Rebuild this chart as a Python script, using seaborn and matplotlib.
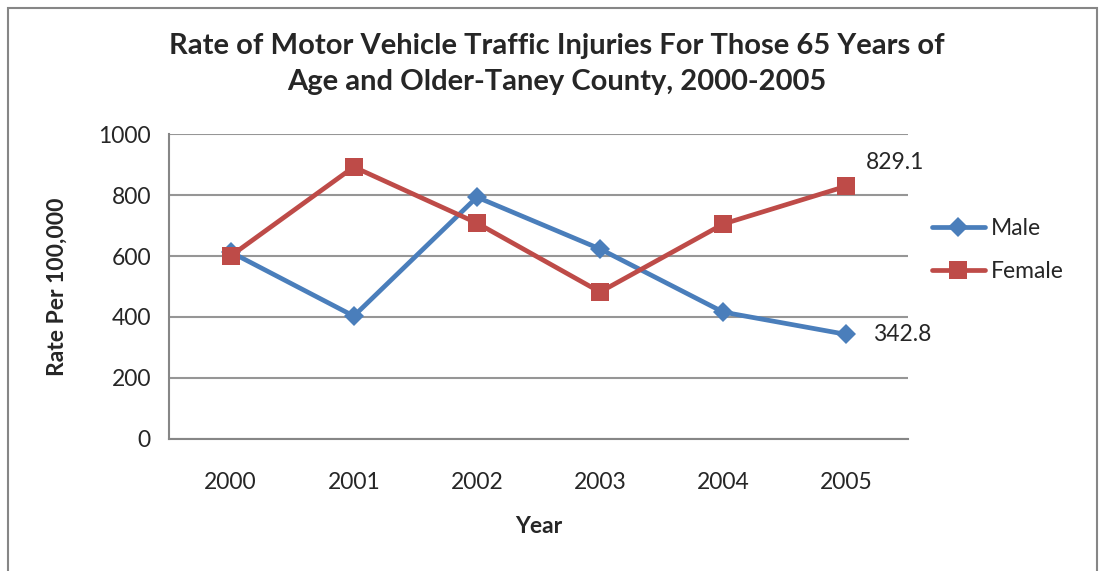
import pandas as pd
import numpy as np
import matplotlib.pyplot as plt
import seaborn as sns
from matplotlib.patches import Rectangle

#data
years = ["2000", "2001", "2002", "2003", "2004", "2005"]
male = [613, 403, 793, 623, 416, 342.8]
female = [600, 892, 708, 482, 705, 829.1]
yticks = [0, 200, 400, 600, 800, 1000]

df = pd.DataFrame({
    "Year": years * 2,
    "Rate": male + female,
    "Sex": ["Male"] * len(years) + ["Female"] * len(years),
})
df["pos"] = df["Year"].map({y: i for i, y in enumerate(years)})

sns.set_style("white")
plt.rcParams['font.family'] = ['Lato', 'DejaVu Sans']

fig = plt.figure(figsize=(11.04, 5.71), dpi=100)
ax = fig.add_axes([0.1531, 0.2312, 0.6694, 0.5341])

palette = {"Male": "#4A7EBB", "Female": "#BE4B48"}
sns.lineplot(data=df, x="pos", y="Rate", hue="Sex", style="Sex",
             markers={"Male": "D", "Female": "s"}, dashes=False,
             palette=palette, linewidth=3.4, markersize=12.5,
             markeredgewidth=0, ax=ax)
for ln in ax.lines:
    if ln.get_marker() == "D":
        ln.set_markersize(10.5)

#axes
ax.set_xlim(-0.5, len(years) - 0.5)
ax.set_ylim(0, 1000)
ax.set_yticks(yticks)
ax.set_yticklabels([str(v) for v in yticks], fontsize=16.5)
ax.set_xticks(np.arange(-0.5, len(years), 1.0))
ax.set_xticklabels([])
ax.set_xticks(range(len(years)), minor=True)
ax.set_xticklabels(years, minor=True, fontsize=16.5)
ax.tick_params(axis="x", which="major", length=8, color="#868686", width=1.2, direction="out")
ax.tick_params(axis="x", which="minor", length=0, pad=24)
ax.tick_params(axis="y", length=8, color="#868686", width=1.2, direction="out", pad=5)
ax.grid(axis="y", color="#969696", linewidth=1.5)
for s in ["top", "right"]:
    ax.spines[s].set_visible(False)
for s in ["left", "bottom"]:
    ax.spines[s].set_color("#868686")
    ax.spines[s].set_linewidth(1.5)

ax.set_xlabel("Year", fontsize=16.5, fontweight="bold", labelpad=16)
ax.set_ylabel("Rate Per 100,000", fontsize=16.5, fontweight="bold", labelpad=22)
fig.text(0.5045, 1 - 64 / 571,
         "Rate of Motor Vehicle Traffic Injuries For Those 65 Years of\nAge and Older-Taney County, 2000-2005",
         ha="center", va="center", fontsize=21, fontweight="bold", linespacing=1.5)

#data labels
ax.annotate(f"{female[-1]}", (5, female[-1]), xytext=(14, 17), textcoords="offset points",
            fontsize=16.5, va="center")
ax.annotate(f"{male[-1]}", (5, male[-1]), xytext=(19, 0), textcoords="offset points",
            fontsize=16.5, va="center")

leg = ax.legend(loc="center left", bbox_to_anchor=(1.02, 0.62), frameon=False,
                fontsize=16.5, handlelength=2.3, handletextpad=0.25, labelspacing=0.95,
                borderaxespad=0.0)
leg.set_title(None)

#outer frame
fig.patches.append(Rectangle((8 / 1104, -0.1), 1089 / 1104, 1.1 - 8 / 571,
                             transform=fig.transFigure, fill=False,
                             edgecolor="#868686", linewidth=1.5))

plt.savefig("out.png", dpi=100)
